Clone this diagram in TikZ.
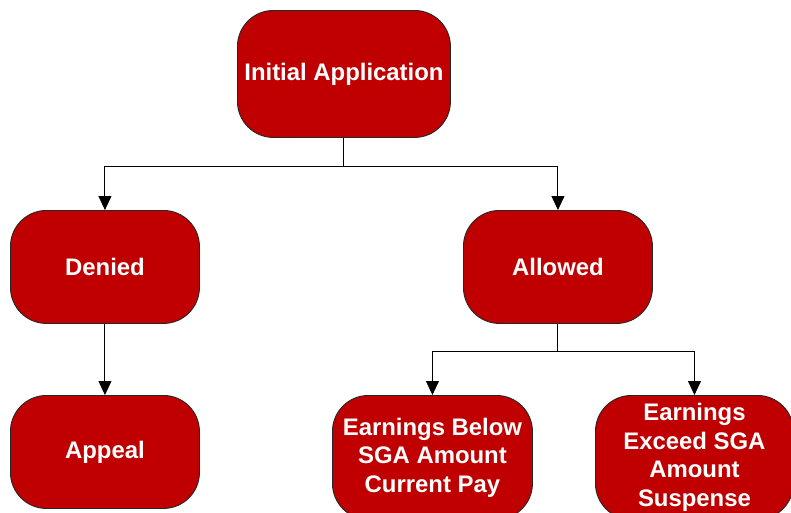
\documentclass[tikz,border=0pt]{standalone}
\usepackage{fontspec}
\setmainfont{Liberation Sans}
\usetikzlibrary{arrows.meta}
\definecolor{boxred}{HTML}{C00000}
\tikzset{
  rbox/.style={draw=black!85, line width=0.9pt, fill=boxred, rounded corners=36pt,
    text=white, font=\bfseries\fontsize{23.9}{28.5}\selectfont, align=center,
    inner sep=0pt, anchor=north west},
  conn/.style={draw=black, line width=1pt},
  arr/.style={conn, -{Triangle[width=13pt,length=14pt]}}
}
\begin{document}
\begin{tikzpicture}[x=1pt,y=-1pt]
\useasboundingbox (0,0) rectangle (791,512);
\clip (0,0) rectangle (791,512);
\node[rbox, minimum width=213pt, minimum height=127pt] (init) at (237,10) {Initial Application};
\node[rbox, minimum width=189pt, minimum height=113pt] (den) at (10,210) {Denied};
\node[rbox, minimum width=189pt, minimum height=113pt] (all) at (463,210) {Allowed};
\node[rbox, minimum width=189pt, minimum height=113pt] (app) at (10,395) {Appeal};
\node[rbox, minimum width=200pt, minimum height=124pt] (below) at (332,395) {Earnings Below\\SGA Amount\\Current Pay};
\node[rbox, minimum width=198pt, minimum height=124pt] (exc) at (595,395) {Earnings\\Exceed SGA\\Amount\\Suspense};
\coordinate (j1) at ([yshift=-29pt]init.south);
\coordinate (j2) at ([yshift=-28pt]all.south);
\draw[conn] (init.south) -- (j1);
\draw[arr] (j1) -| (den.north);
\draw[arr] (j1) -| (all.north);
\draw[arr] (den.south) -- (app.north);
\draw[conn] (all.south) -- (j2);
\draw[arr] (j2) -| (below.north);
\draw[arr] (j2) -| (exc.north);
\end{tikzpicture}
\end{document}
